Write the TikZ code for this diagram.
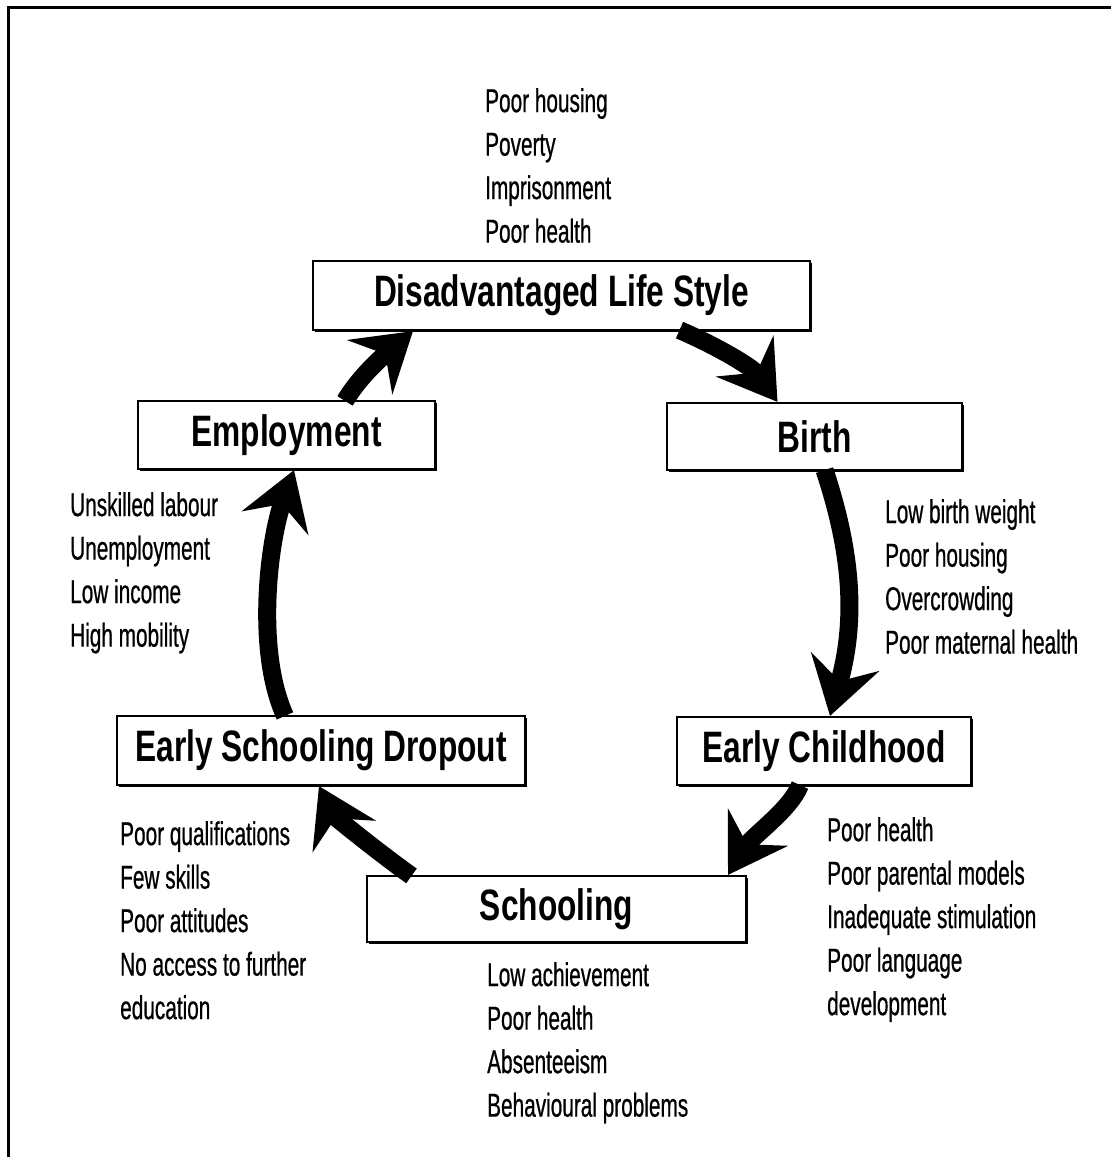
\documentclass[tikz,border=0pt]{standalone}
\usepackage{fontspec}
\setmainfont{Liberation Sans}
\newfontfamily\lblfont[FakeStretch=0.63,FakeBold=0.6]{Liberation Sans}
\newfontfamily\ttlfont[FakeStretch=0.72]{Liberation Sans Bold}
\usetikzlibrary{arrows.meta,shadows}
\begin{document}
\begin{tikzpicture}[x=1pt,y=-1pt,
  stagebox/.style={draw,line width=2.2pt,fill=white,inner sep=0pt,
    font=\ttlfont\fontsize{44}{48}\selectfont,
    drop shadow={shadow xshift=2pt,shadow yshift=-2pt,opacity=1,fill=black}},
  factors/.style={anchor=north west,inner sep=0pt,align=left,
    font=\lblfont\fontsize{33}{43.5}\selectfont},
  cyclearrow/.style={line width=18pt,
    -{Stealth[length=56pt,width=70pt,inset=20pt]}}]
\useasboundingbox (0,0) rectangle (1111,1157);
\fill[white] (0,0) rectangle (1111,1157);
\draw[line width=3pt] (8,1160) -- (8,7) -- (1115,7);

% stage boxes
\node[stagebox,minimum width=497pt,minimum height=69pt] (dis) at (561.5,295.5) {Disadvantaged Life Style};
\node[stagebox,minimum width=295pt,minimum height=67pt] (birth) at (814.5,436.5) {Birth};
\node[stagebox,minimum width=297pt,minimum height=68pt] (emp) at (286.5,435) {Employment};
\node[stagebox,minimum width=408pt,minimum height=69pt] (drop) at (321,750.5) {Early Schooling Dropout};
\node[stagebox,minimum width=294pt,minimum height=68pt] (ec) at (824,751) {Early Childhood};
\node[stagebox,minimum width=379pt,minimum height=66pt] (sch) at (556.5,909) {Schooling};

% factor lists
\node[factors] (tdis) at (485,88) {Poor housing\\Poverty\\Imprisonment\\Poor health};
\node[factors] (tbirth) at (885,499) {Low birth weight\\Poor housing\\Overcrowding\\Poor maternal health};
\node[factors] (temp) at (70,492) {Unskilled labour\\Unemployment\\Low income\\High mobility};
\node[factors] (tdrop) at (120,821) {Poor qualifications\\Few skills\\Poor attitudes\\No access to further\\education};
\node[factors] (tec) at (827,817) {Poor health\\Poor parental models\\Inadequate stimulation\\Poor language\\development};
\node[factors] (tsch) at (487,962) {Low achievement\\Poor health\\Absenteeism\\Behavioural problems};

% cycle arrows
\draw[cyclearrow] ([xshift=118pt,yshift=1pt]dis.south) .. controls +(35,15) and +(-25,-35) .. ([xshift=-37pt]birth.north);
\draw[cyclearrow] ([xshift=10pt,yshift=1pt]birth.south) .. controls +(30,90) and +(25,-90) .. ([xshift=6pt]ec.north);
\draw[cyclearrow] ([xshift=-24pt,yshift=1pt]ec.south) .. controls +(-10,25) and +(25,-40) .. ([xshift=171.5pt]sch.north);
\draw[cyclearrow] ([xshift=-145pt,yshift=-1pt]sch.north) .. controls +(-35,-25) and +(15,30) .. ([xshift=-2pt]drop.south);
\draw[cyclearrow] ([xshift=-36pt,yshift=-1pt]drop.north) .. controls +(-30,-66) and +(-25,70) .. ([xshift=7.5pt]emp.south);
\draw[cyclearrow] ([xshift=58.5pt,yshift=-1pt]emp.north) .. controls +(15,-25) and +(-30,25) .. ([xshift=-148.5pt]dis.south);
\end{tikzpicture}
\end{document}
